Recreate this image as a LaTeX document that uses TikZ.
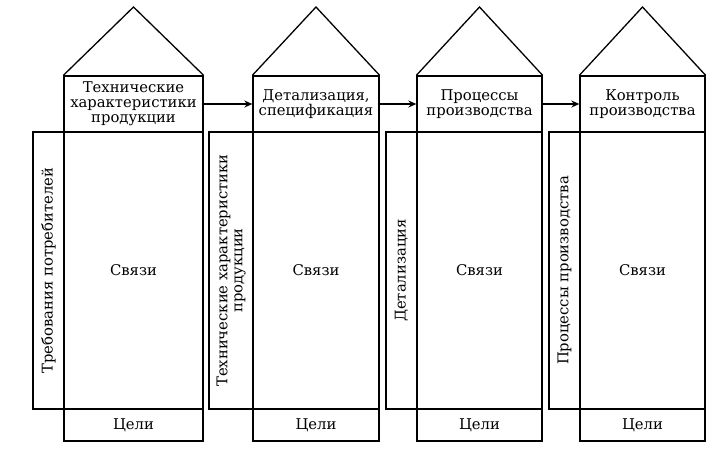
\documentclass[tikz,border=0pt]{standalone}
\usepackage{fontspec}
\setmainfont{DejaVu Serif}
\usetikzlibrary{arrows.meta}
\begin{document}
\begin{tikzpicture}[>={Stealth[length=8pt,width=7pt]}, x=1pt, y=-1pt, line width=1.3pt]
\tikzstyle{every node}=[draw,rectangle,inner sep=0pt,align=center,font=\fontsize{14.8}{15}\selectfont]
\tikzstyle{side}=[rotate=90,minimum width=277,minimum height=31]
\useasboundingbox (0,0) rectangle (725,459);
% headers
\node[minimum width=139,minimum height=56](h1) at (133.5,104) {Технические\\характеристики\\продукции};
\node[minimum width=126,minimum height=56](h2) at (316,104) {Детализация,\\спецификация};
\node[minimum width=125,minimum height=56](h3) at (479.5,104) {Процессы\\производства};
\node[minimum width=125,minimum height=56](h4) at (642.5,104) {Контроль\\производства};
% roofs
\coordinate (r1) at (133.5,7);
\coordinate (r2) at (316,7);
\coordinate (r3) at (479.5,7);
\coordinate (r4) at (642.5,7);
\draw (h1.north west) -- (r1) -- (h1.north east);
\draw (h2.north west) -- (r2) -- (h2.north east);
\draw (h3.north west) -- (r3) -- (h3.north east);
\draw (h4.north west) -- (r4) -- (h4.north east);
% bodies
\node[minimum width=139,minimum height=277](b1) at (133.5,270.5) {Связи};
\node[minimum width=126,minimum height=277](b2) at (316,270.5) {Связи};
\node[minimum width=125,minimum height=277](b3) at (479.5,270.5) {Связи};
\node[minimum width=125,minimum height=277](b4) at (642.5,270.5) {Связи};
% side columns
\node[side](c1) at (48.5,270.5) {Требования потребителей};
\node[side,minimum height=44](c2) at (231,270.5) {Технические характеристики\\продукции};
\node[side](c3) at (401.5,270.5) {Детализация};
\node[side](c4) at (564.5,270.5) {Процессы производства};
% goals
\node[minimum width=139,minimum height=32](g1) at (133.5,425) {Цели};
\node[minimum width=126,minimum height=32](g2) at (316,425) {Цели};
\node[minimum width=125,minimum height=32](g3) at (479.5,425) {Цели};
\node[minimum width=125,minimum height=32](g4) at (642.5,425) {Цели};
\draw[->] (h1.east) -- (h2.west);
\draw[->] (h2.east) -- (h3.west);
\draw[->] (h3.east) -- (h4.west);
\end{tikzpicture}
\end{document}
